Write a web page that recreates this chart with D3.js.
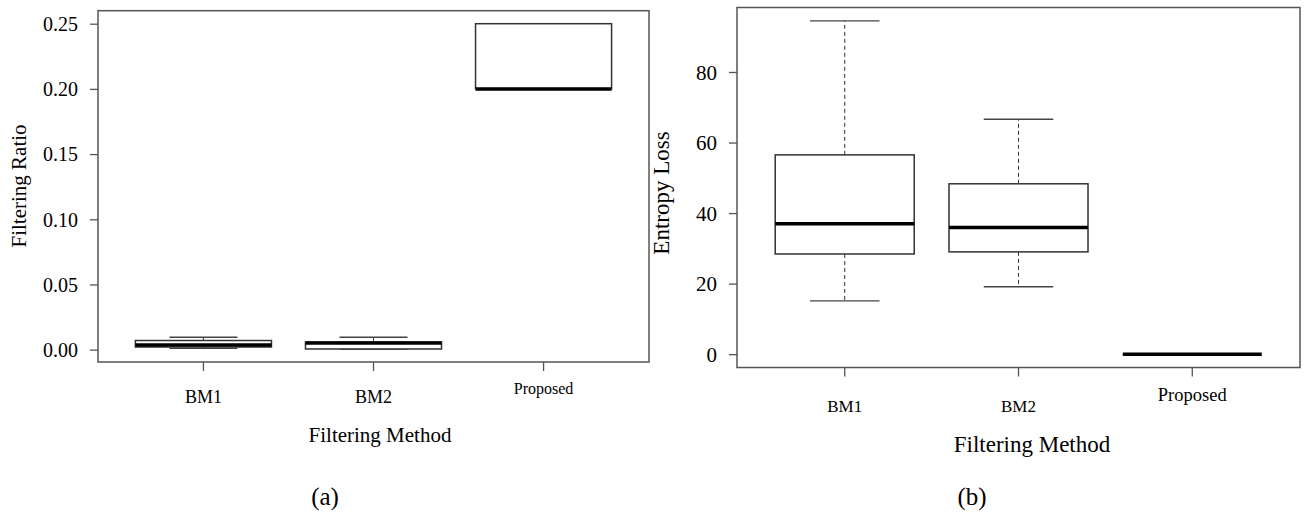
<!DOCTYPE html>
<html>
<head>
<meta charset="utf-8">
<script src="https://cdn.jsdelivr.net/npm/d3@7"></script>
<style>
  body { margin:0; background:#fff; }
  svg text { font-family:"Liberation Serif","Times New Roman",serif; fill:#000; }
</style>
</head>
<body>
<div id="chart"></div>
<script>
// data
var methods = ["BM1", "BM2", "Proposed"];

// (a) filtering ratio
var ratioMin    = [0.001,  0.0005, 0.20];
var ratioQ1     = [0.002,  0.0005, 0.20];
var ratioMedian = [0.0035, 0.005,  0.20];
var ratioQ3     = [0.007,  0.0058, 0.25];
var ratioMax    = [0.0095, 0.0095, 0.25];
var ratioTicks  = [0, 0.05, 0.10, 0.15, 0.20, 0.25];

// (b) entropy loss
var lossMin    = [15.1, 19.1, 0];
var lossQ1     = [28.4, 29.0, 0];
var lossMedian = [37.0, 35.9, 0];
var lossQ3     = [56.5, 48.3, 0];
var lossMax    = [94.5, 66.6, 0];
var lossTicks  = [0, 20, 40, 60, 80];

function init(){

    var svg = d3.select("#chart")
                .append("svg")
                .attr("width", 1305)
                .attr("height", 514);

    drawPanel(svg, {
        left:98, right:649, top:10.7, bottom:362,
        min:ratioMin, q1:ratioQ1, med:ratioMedian, q3:ratioQ3, max:ratioMax,
        ticks:ratioTicks, fmt:d3.format(".2f"), tickFont:20,
        labY:[403, 403, 394], labFont:[18, 18, 16],
        title:"Filtering Method", titleX:380, titleY:442, titleFont:21,
        ylab:"Filtering Ratio", ylabX:26, ylabY:186, ylabFont:21,
        caption:"(a)", capX:325
    });

    drawPanel(svg, {
        left:737, right:1300, top:7.5, bottom:367.5,
        min:lossMin, q1:lossQ1, med:lossMedian, q3:lossQ3, max:lossMax,
        ticks:lossTicks, fmt:d3.format("d"), tickFont:21,
        labY:[412, 412, 401], labFont:[17, 17, 18.5],
        title:"Filtering Method", titleX:1032, titleY:452, titleFont:23,
        ylab:"Entropy Loss", ylabX:669, ylabY:193, ylabFont:23,
        caption:"(b)", capX:972
    });
}

function drawPanel(svg, p){

    var lo = d3.min(p.min), hi = d3.max(p.max);
    var pad = (hi - lo) * 0.04;

    var y = d3.scaleLinear()
              .domain([lo - pad, hi + pad])
              .range([p.bottom, p.top]);

    var x = d3.scaleBand()
              .domain(methods)
              .range([p.left, p.right])
              .paddingInner(0)
              .paddingOuter(0.12);

    var bw = x.step() * 0.8;
    var cx = d => x(d) + x.bandwidth() / 2;

    var g = svg.append("g");

    // y axis
    var yAxis = g.append("g")
                 .attr("transform", "translate(" + p.left + ",0)")
                 .call(d3.axisLeft(y).tickValues(p.ticks).tickFormat(p.fmt).tickSize(8).tickPadding(12));
    yAxis.attr("font-family", "Liberation Serif");
    yAxis.select(".domain").remove();
    yAxis.selectAll("line").attr("stroke", "#555").attr("stroke-width", 1.3);
    yAxis.selectAll("text")
         .style("font-size", p.tickFont + "px")
         .attr("fill", "#000")
         .attr("dy", "0.34em");

    // x axis ticks (labels drawn by hand, they sit at different heights)
    var xAxis = g.append("g")
                 .attr("transform", "translate(0," + p.bottom + ")")
                 .call(d3.axisBottom(x).tickSize(9).tickFormat(""));
    xAxis.select(".domain").remove();
    xAxis.selectAll("line").attr("stroke", "#555").attr("stroke-width", 1.3);

    g.selectAll("text.xlab")
     .data(methods)
     .enter()
     .append("text")
     .attr("class", "xlab")
     .attr("x", d => cx(d))
     .attr("y", (d, i) => p.labY[i])
     .attr("text-anchor", "middle")
     .style("font-size", (d, i) => p.labFont[i] + "px")
     .text(d => d);

    // plot frame
    g.append("rect")
     .attr("x", p.left)
     .attr("y", p.top)
     .attr("width", p.right - p.left)
     .attr("height", p.bottom - p.top)
     .attr("fill", "none")
     .attr("stroke", "#555")
     .attr("stroke-width", 1.5);

    var boxes = g.selectAll("g.box")
                 .data(methods)
                 .enter()
                 .append("g")
                 .attr("class", "box");

    // whiskers
    boxes.append("line")
         .attr("x1", d => cx(d)).attr("x2", d => cx(d))
         .attr("y1", (d, i) => y(p.q3[i])).attr("y2", (d, i) => y(p.max[i]))
         .attr("stroke", "#333").attr("stroke-dasharray", "4,3");
    boxes.append("line")
         .attr("x1", d => cx(d)).attr("x2", d => cx(d))
         .attr("y1", (d, i) => y(p.q1[i])).attr("y2", (d, i) => y(p.min[i]))
         .attr("stroke", "#333").attr("stroke-dasharray", "4,3");

    // caps
    [p.min, p.max].forEach(function(arr){
        boxes.append("line")
             .attr("x1", d => cx(d) - bw / 4).attr("x2", d => cx(d) + bw / 4)
             .attr("y1", (d, i) => y(arr[i])).attr("y2", (d, i) => y(arr[i]))
             .attr("stroke", "#444").attr("stroke-width", 1.4);
    });

    // box
    boxes.append("rect")
         .attr("x", d => cx(d) - bw / 2)
         .attr("width", bw)
         .attr("y", (d, i) => y(p.q3[i]))
         .attr("height", (d, i) => y(p.q1[i]) - y(p.q3[i]))
         .attr("fill", "#fff")
         .attr("stroke", "#333")
         .attr("stroke-width", 1.5);

    // median
    boxes.append("line")
         .attr("x1", d => cx(d) - bw / 2).attr("x2", d => cx(d) + bw / 2)
         .attr("y1", (d, i) => y(p.med[i])).attr("y2", (d, i) => y(p.med[i]))
         .attr("stroke", "#000")
         .attr("stroke-width", 3.5);

    // titles
    g.append("text")
     .attr("x", p.titleX).attr("y", p.titleY)
     .attr("text-anchor", "middle")
     .style("font-size", p.titleFont + "px")
     .text(p.title);

    g.append("text")
     .attr("transform", "translate(" + p.ylabX + "," + p.ylabY + ") rotate(-90)")
     .attr("text-anchor", "middle")
     .style("font-size", p.ylabFont + "px")
     .text(p.ylab);

    g.append("text")
     .attr("x", p.capX).attr("y", 505)
     .attr("text-anchor", "middle")
     .style("font-size", "25px")
     .text(p.caption);
}

init();
</script>
</body>
</html>
